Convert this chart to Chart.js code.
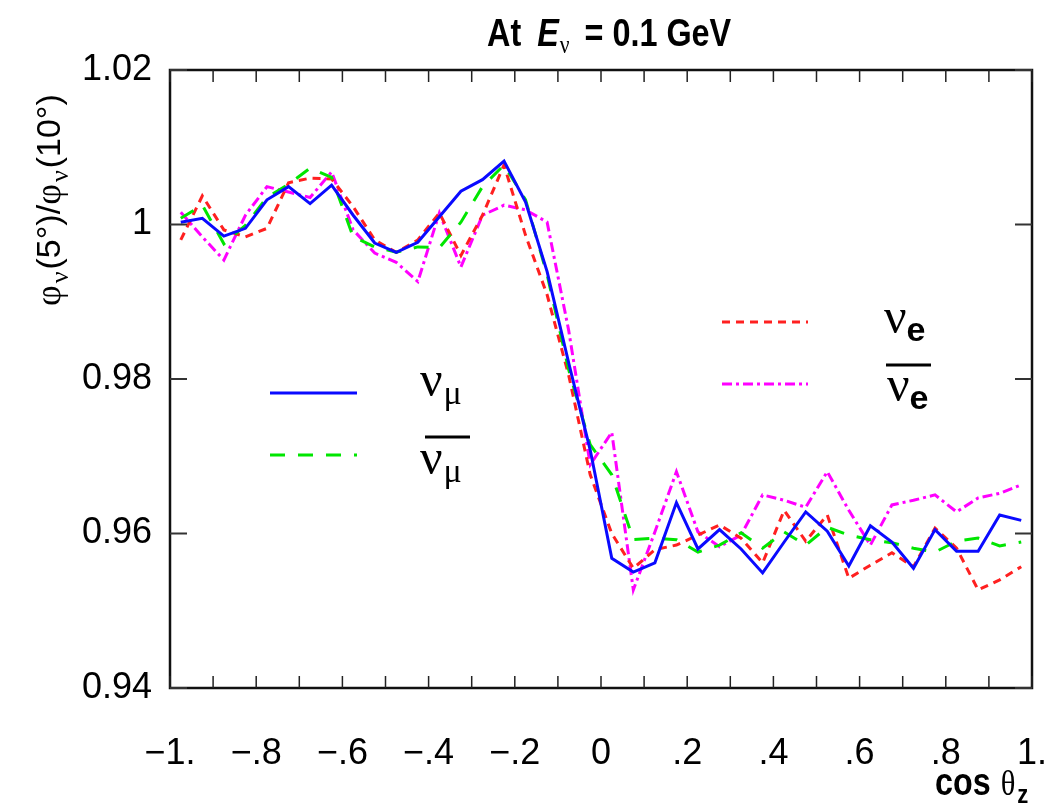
<!DOCTYPE html>
<html>
<head>
<meta charset="utf-8">
<script src="https://cdn.jsdelivr.net/npm/chart.js@4/dist/chart.umd.min.js"></script>
<style>
  html, body { margin: 0; padding: 0; background: #fff; }
  canvas { display: block; }
</style>
</head>
<body>
<canvas id="c" width="1053" height="807"></canvas>
<script>
// ---- data ----
const cosTheta = [-0.975, -0.925, -0.875, -0.825, -0.775, -0.725, -0.675, -0.625, -0.575, -0.525,
                  -0.475, -0.425, -0.375, -0.325, -0.275, -0.225, -0.175, -0.125, -0.075, -0.025,
                   0.025,  0.075,  0.125,  0.175,  0.225,  0.275,  0.325,  0.375,  0.425,  0.475,
                   0.525,  0.575,  0.625,  0.675,  0.725,  0.775,  0.825,  0.875,  0.925,  0.975];

const numu = [1.0003, 1.0008, 0.9985, 0.9995, 1.0032, 1.0049, 1.0027, 1.0051, 1.0012, 0.9976,
              0.9964, 0.9977, 1.0010, 1.0043, 1.0058, 1.0082, 1.0029, 0.9939, 0.9821, 0.9708,
              0.9568, 0.9550, 0.9562, 0.9640, 0.9580, 0.9605, 0.9580, 0.9549, 0.9589, 0.9628,
              0.9603, 0.9558, 0.9610, 0.9589, 0.9555, 0.9605, 0.9577, 0.9577, 0.9624, 0.9617];

const numubar = [1.0008, 1.0025, 0.9975, 0.9999, 1.0035, 1.0052, 1.0073, 1.0061, 0.9984, 0.9971,
                 0.9964, 0.9971, 0.9970, 1.0003, 1.0049, 1.0077, 1.0032, 0.9935, 0.9812, 0.9715,
                 0.9676, 0.9592, 0.9594, 0.9592, 0.9576, 0.9585, 0.9601, 0.9581, 0.9602, 0.9585,
                 0.9608, 0.9598, 0.9592, 0.9588, 0.9581, 0.9576, 0.9590, 0.9594, 0.9584, 0.9589];

const nue = [0.9980, 1.0037, 0.9993, 0.9984, 0.9995, 1.0054, 1.0060, 1.0059, 1.0023, 0.9980,
             0.9964, 0.9980, 1.0015, 0.9960, 1.0012, 1.0077, 0.9986, 0.9909, 0.9805, 0.9676,
             0.9600, 0.9555, 0.9579, 0.9585, 0.9598, 0.9611, 0.9594, 0.9562, 0.9630, 0.9590,
             0.9624, 0.9542, 0.9559, 0.9575, 0.9557, 0.9607, 0.9581, 0.9527, 0.9540, 0.9557];

const nuebar = [1.0016, 0.9984, 0.9954, 1.0012, 1.0049, 1.0042, 1.0035, 1.0068, 0.9993, 0.9963,
                0.9951, 0.9926, 1.0015, 0.9945, 1.0012, 1.0025, 1.0019, 1.0003, 0.9863, 0.9689,
                0.9731, 0.9527, 0.9602, 0.9680, 0.9602, 0.9583, 0.9598, 0.9650, 0.9643, 0.9634,
                0.9680, 0.9630, 0.9585, 0.9637, 0.9643, 0.9650, 0.9628, 0.9646, 0.9652, 0.9663];

const xTickValues = [-1, -0.8, -0.6, -0.4, -0.2, 0, 0.2, 0.4, 0.6, 0.8, 1];
const xTickLabels = ["\u22121.", "\u2212.8", "\u2212.6", "\u2212.4", "\u2212.2", "0", ".2", ".4", ".6", ".8", "1."];
const xMinorTicks = [-1, -0.9, -0.8, -0.7, -0.6, -0.5, -0.4, -0.3, -0.2, -0.1, 0, 0.1, 0.2, 0.3, 0.4, 0.5, 0.6, 0.7, 0.8, 0.9, 1];
const yTickValues = [0.94, 0.96, 0.98, 1.0, 1.02];
const yTickLabels = ["0.94", "0.96", "0.98", "1", "1.02"];

// ---- styles ----
const styles = {
  numu:    { color: '#0a0aff', dash: [] },
  numubar: { color: '#00e600', dash: [15, 13] },
  nue:     { color: '#ff2020', dash: [8, 6] },
  nuebar:  { color: '#ff00ff', dash: [10, 4, 3, 4] }
};

function mk(label, arr, st) {
  return {
    label: label,
    data: cosTheta.map((x, i) => ({ x: x, y: arr[i] })),
    borderColor: st.color,
    borderWidth: 3,
    borderDash: st.dash,
    pointRadius: 0,
    tension: 0,
    fill: false
  };
}

const SANS = "'Liberation Sans', Arial, Helvetica, sans-serif";
const SERIF = "'Liberation Serif', 'Times New Roman', serif";

function drawSegs(ctx, x, y, segs, sx) {
  let cx = x;
  segs.forEach(s => {
    ctx.font = s.font;
    cx += (s.dx || 0);
    ctx.save();
    ctx.translate(cx, y + (s.dy || 0));
    ctx.scale(sx || 1, 1);
    ctx.fillText(s.t, 0, 0);
    ctx.restore();
    cx += ctx.measureText(s.t).width * (sx || 1);
  });
  return cx;
}

const decor = {
  id: 'decor',
  afterDraw(chart) {
    const ctx = chart.ctx;
    const a = chart.chartArea;
    const xs = chart.scales.x, ys = chart.scales.y;
    ctx.save();
    // frame
    ctx.strokeStyle = '#111';
    ctx.lineWidth = 2.5;
    ctx.setLineDash([]);
    ctx.strokeRect(a.left, a.top, a.right - a.left, a.bottom - a.top);
    // x ticks (inside, top and bottom)
    ctx.lineWidth = 1.5;
    ctx.strokeStyle = '#222';
    xMinorTicks.forEach(v => {
      const px = xs.getPixelForValue(v);
      ctx.beginPath();
      ctx.moveTo(px, a.bottom); ctx.lineTo(px, a.bottom - 12);
      ctx.moveTo(px, a.top); ctx.lineTo(px, a.top + 12);
      ctx.stroke();
    });
    // y ticks (inside, left and right)
    ctx.lineWidth = 2;
    ctx.strokeStyle = '#333';
    yTickValues.forEach(v => {
      const py = ys.getPixelForValue(v);
      ctx.beginPath();
      ctx.moveTo(a.left, py); ctx.lineTo(a.left + 17, py);
      ctx.moveTo(a.right, py); ctx.lineTo(a.right - 17, py);
      ctx.stroke();
    });

    // legend lines
    const leg = [
      { st: styles.numu,    x1: 270, x2: 357, y: 393 },
      { st: styles.numubar, x1: 270, x2: 357, y: 455 },
      { st: styles.nue,     x1: 722, x2: 808, y: 322 },
      { st: styles.nuebar,  x1: 722, x2: 808, y: 384 }
    ];
    ctx.lineWidth = 3;
    leg.forEach(l => {
      ctx.strokeStyle = l.st.color;
      ctx.setLineDash(l.st.dash);
      ctx.beginPath();
      ctx.moveTo(l.x1, l.y); ctx.lineTo(l.x2, l.y);
      ctx.stroke();
    });
    ctx.setLineDash([]);

    // legend labels
    ctx.fillStyle = '#000';
    ctx.textBaseline = 'alphabetic';
    ctx.textAlign = 'left';
    drawSegs(ctx, 420, 396, [
      { t: 'ν', font: `50px ${SERIF}` },
      { t: 'μ', font: `34px ${SERIF}`, dy: 8, dx: 1 }
    ]);
    drawSegs(ctx, 420, 474, [
      { t: 'ν', font: `50px ${SERIF}` },
      { t: 'μ', font: `34px ${SERIF}`, dy: 8, dx: 1 }
    ]);
    ctx.strokeStyle = '#000';
    ctx.lineWidth = 3;
    ctx.beginPath(); ctx.moveTo(425, 437); ctx.lineTo(470, 437); ctx.stroke();
    drawSegs(ctx, 884, 333, [
      { t: 'ν', font: `50px ${SERIF}` },
      { t: 'e', font: `bold 34px ${SANS}`, dy: 8, dx: 0 }
    ]);
    drawSegs(ctx, 887, 401, [
      { t: 'ν', font: `50px ${SERIF}` },
      { t: 'e', font: `bold 34px ${SANS}`, dy: 8, dx: 0 }
    ]);
    ctx.beginPath(); ctx.moveTo(886, 365); ctx.lineTo(931, 365); ctx.stroke();

    // title
    drawSegs(ctx, 487, 46, [
      { t: 'At', font: `bold 39px ${SANS}` },
      { t: 'E', font: `italic bold 39px ${SANS}`, dx: 16 },
      { t: 'ν', font: `26px ${SERIF}`, dy: 7, dx: 1 },
      { t: '= 0.1 GeV', font: `bold 39px ${SANS}`, dx: 15 }
    ], 0.83);

    // x axis title
    drawSegs(ctx, 935, 795, [
      { t: 'cos', font: `bold 38px ${SANS}` },
      { t: 'θ', font: `36px ${SERIF}`, dx: 10 },
      { t: 'z', font: `bold 26px ${SANS}`, dy: 8, dx: 2 }
    ], 0.85);

    // y axis title (rotated)
    ctx.save();
    ctx.translate(60, 306);
    ctx.rotate(-Math.PI / 2);
    drawSegs(ctx, 0, 0, [
      { t: 'φ', font: `36px ${SERIF}` },
      { t: 'ν', font: `26px ${SERIF}`, dy: 8, dx: 2 },
      { t: '(5°)/', font: `34px ${SANS}`, dx: 2 },
      { t: 'φ', font: `36px ${SERIF}` },
      { t: 'ν', font: `26px ${SERIF}`, dy: 8, dx: 2 },
      { t: '(10°)', font: `34px ${SANS}`, dx: 2 }
    ]);
    ctx.restore();

    ctx.restore();
  }
};

new Chart(document.getElementById('c'), {
  type: 'line',
  data: {
    datasets: [
      mk('νμ', numu, styles.numu),
      mk('anti-νμ', numubar, styles.numubar),
      mk('νe', nue, styles.nue),
      mk('anti-νe', nuebar, styles.nuebar)
    ]
  },
  options: {
    responsive: false,
    animation: false,
    devicePixelRatio: 1,
    layout: { padding: { top: 70, right: 21, left: 0, bottom: 0 } },
    plugins: { legend: { display: false }, tooltip: { enabled: false }, title: { display: false } },
    scales: {
      x: {
        type: 'linear', min: -1, max: 1,
        afterBuildTicks: s => { s.ticks = xTickValues.map(v => ({ value: v })); },
        afterFit: s => { s.height = 807 - 688; s.paddingLeft = 0; s.paddingRight = 0; },
        ticks: {
          callback: (v, i) => xTickLabels[i],
          font: { family: SANS, size: 36 },
          color: '#000',
          padding: 44,
          maxRotation: 0,
          autoSkip: false
        },
        grid: { display: false, drawTicks: false },
        border: { display: false }
      },
      y: {
        type: 'linear', min: 0.94, max: 1.02,
        afterBuildTicks: s => { s.ticks = yTickValues.map(v => ({ value: v })); },
        afterFit: s => { s.width = 170; s.paddingTop = 0; s.paddingBottom = 0; },
        ticks: {
          callback: (v, i) => yTickLabels[i],
          font: { family: SANS, size: 36 },
          color: '#000',
          padding: 18,
          autoSkip: false
        },
        grid: { display: false, drawTicks: false },
        border: { display: false }
      }
    }
  },
  plugins: [decor]
});
</script>
</body>
</html>
